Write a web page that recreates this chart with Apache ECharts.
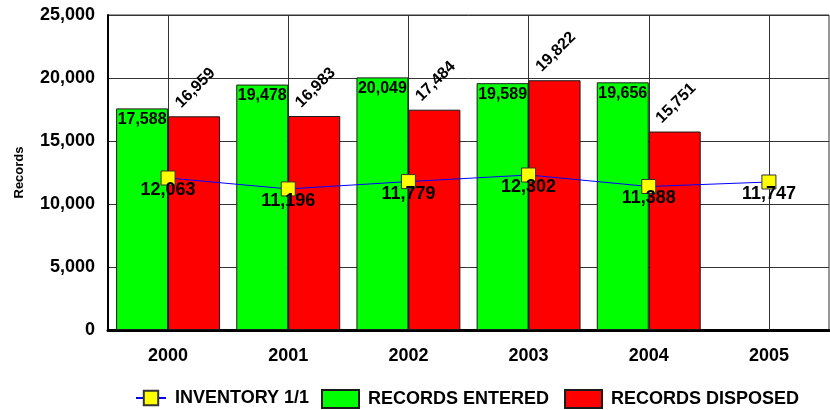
<!DOCTYPE html>
<html>
<head>
<meta charset="utf-8">
<script src="https://cdn.jsdelivr.net/npm/echarts@6/dist/echarts.min.js"></script>
<style>
  html, body { margin: 0; padding: 0; background: #fff; }
  #chart { width: 830px; height: 410px; }
</style>
</head>
<body>
<div id="chart"></div>
<script>
// Yearly records activity
const years = ['2000', '2001', '2002', '2003', '2004', '2005'];
const inventory = [12063, 11196, 11779, 12302, 11388, 11747];
const entered = [17588, 19478, 20049, 19589, 19656, null];
const disposed = [16959, 16983, 17484, 19822, 15751, null];
const yMin = 0, yMax = 25000, yStep = 5000;

const FONT = "'Liberation Sans', Arial, sans-serif";
const fmt = v => Number(v).toLocaleString('en-US');

const chart = echarts.init(document.getElementById('chart'), null, { renderer: 'canvas' });

const legendText = { fontFamily: FONT, fontWeight: 'bold', fontSize: 18, color: '#000', padding: [0, 0, 0, 4] };

chart.setOption({
  animation: false,
  backgroundColor: '#ffffff',
  textStyle: { fontFamily: FONT },
  grid: {
    left: 108, right: 1, top: 15, bottom: 80,
    show: true, borderColor: '#333', borderWidth: 1, backgroundColor: '#ffffff'
  },
  legend: [
    {
      data: ['INVENTORY 1/1'],
      left: 135, top: 389, padding: 0,
      itemWidth: 30, itemHeight: 18,
      textStyle: legendText
    },
    {
      data: ['RECORDS ENTERED', 'RECORDS DISPOSED'],
      left: 321, top: 389, padding: 0,
      itemWidth: 37, itemHeight: 18, itemGap: 15,
      icon: 'rect',
      textStyle: legendText
    }
  ],
  xAxis: {
    type: 'category',
    data: years,
    axisLine: { lineStyle: { color: '#000', width: 3 } },
    axisTick: { show: false },
    axisLabel: { color: '#000', fontFamily: FONT, fontWeight: 'bold', fontSize: 18, margin: 17 },
    splitLine: { show: false }
  },
  yAxis: {
    type: 'value',
    min: yMin, max: yMax, interval: yStep,
    name: 'Records',
    nameLocation: 'middle',
    nameGap: 82,
    nameTextStyle: { color: '#000', fontFamily: FONT, fontWeight: 'bold', fontSize: 13 },
    axisLine: { show: true, lineStyle: { color: '#000', width: 2 } },
    axisTick: { show: false },
    axisLabel: { color: '#000', fontFamily: FONT, fontWeight: 'bold', fontSize: 18, margin: 13, formatter: fmt },
    splitLine: { lineStyle: { color: '#333', width: 1 } }
  },
  series: [
    {
      // vertical guide lines through each year, kept under the bars and markers
      name: 'guides',
      type: 'line',
      data: [],
      z: 1,
      silent: true,
      markLine: {
        z: 1,
        silent: true,
        symbol: ['none', 'none'],
        label: { show: false },
        lineStyle: { color: '#333', width: 1, type: 'solid' },
        emphasis: { disabled: true },
        data: years.map(y => ({ xAxis: y }))
      }
    },
    {
      name: 'RECORDS ENTERED',
      type: 'bar',
      data: entered,
      barGap: 0,
      barCategoryGap: '13.5%',
      itemStyle: { color: '#00ff00', borderColor: '#1a1a1a', borderWidth: 1 },
      label: {
        show: true, position: 'insideTop', distance: 3,
        formatter: p => fmt(p.value),
        color: '#000', fontFamily: FONT, fontWeight: 'bold', fontSize: 16
      },
      emphasis: { disabled: true }
    },
    {
      name: 'RECORDS DISPOSED',
      type: 'bar',
      data: disposed,
      itemStyle: { color: '#ff0000', borderColor: '#1a1a1a', borderWidth: 1 },
      label: {
        show: true, position: [10, -11], rotate: 45,
        align: 'left', verticalAlign: 'middle',
        formatter: p => fmt(p.value),
        color: '#000', fontFamily: FONT, fontWeight: 'bold', fontSize: 16
      },
      emphasis: { disabled: true }
    },
    {
      name: 'INVENTORY 1/1',
      type: 'line',
      data: inventory,
      z: 4,
      symbol: 'rect',
      symbolSize: 14,
      lineStyle: { color: '#0000ff', width: 1 },
      itemStyle: { color: '#ffff00', borderColor: '#333', borderWidth: 1 },
      label: {
        show: true, position: 'inside', offset: [0, 12],
        formatter: p => fmt(p.value),
        color: '#000', fontFamily: FONT, fontWeight: 'bold', fontSize: 18
      },
      emphasis: { disabled: true }
    }
  ]
});
</script>
</body>
</html>
